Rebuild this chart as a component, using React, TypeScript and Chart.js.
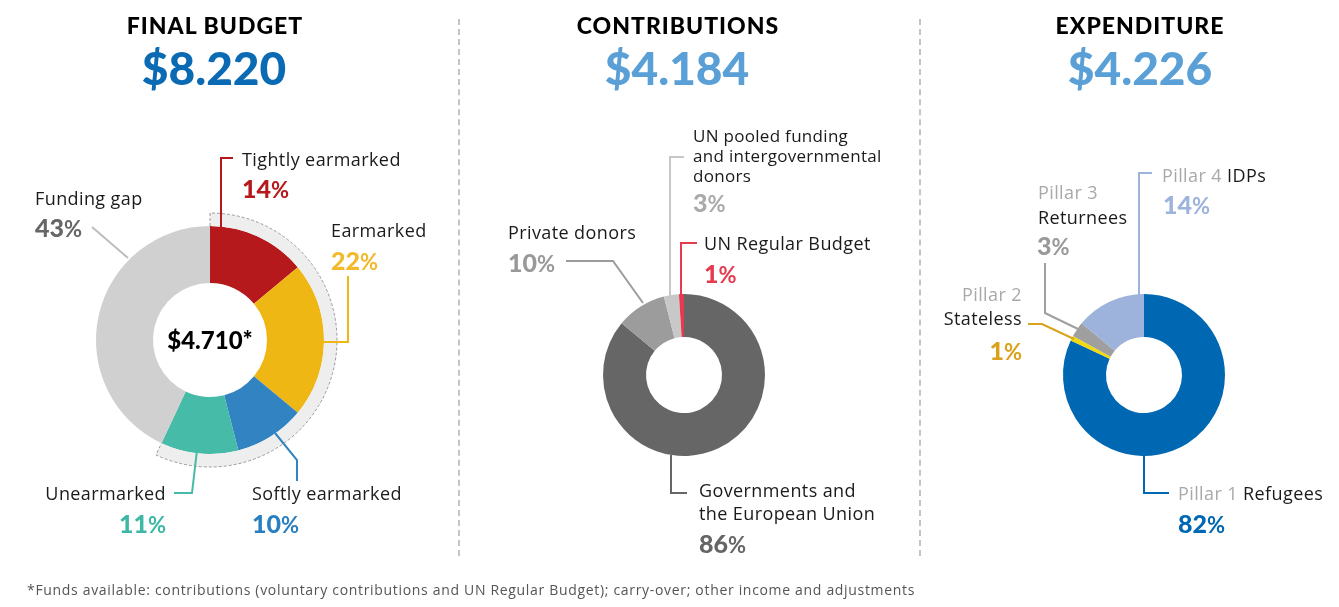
import React, { useEffect, useRef } from "react";
import { Chart, registerables } from "chart.js";

Chart.register(...registerables);

// ---------- DATA ----------
const titles = ["FINAL BUDGET", "CONTRIBUTIONS", "EXPENDITURE"];
const totals = ["$8.220", "$4.184", "$4.226"];
const budgetCenter = "$4.710*";

const budgetLabels = ["Tightly earmarked", "Earmarked", "Softly earmarked", "Unearmarked", "Funding gap"];
const budgetValues = [14, 22, 10, 11, 43];
const fundsAvailable = [57, 43]; // funds available band vs gap

const contribLabels = ["Governments and the European Union", "Private donors", "UN pooled funding and intergovernmental donors", "UN Regular Budget"];
const contribValues = [86, 10, 3, 1];

const expendLabels = ["Pillar 1 Refugees", "Pillar 2 Stateless", "Pillar 3 Returnees", "Pillar 4 IDPs"];
const expendValues = [82, 1, 3, 14];

const footnote = "*Funds available: contributions (voluntary contributions and UN Regular Budget); carry-over; other income and adjustments";

// ---------- STYLE ----------
const budgetColors = ["#b5191c", "#efb713", "#3283c1", "#45bba8", "#d0d0d0"];
const contribColors = ["#666666", "#9c9c9c", "#c8c8c8", "#e63a50"];
const expendColors = ["#0068b2", "#f3d90f", "#9f9f9f", "#9db3dc"];

const W = 1339;
const H = 607;
const LABEL_FONT = "'Open Sans', sans-serif";
const NUM_FONT = "Lato, sans-serif";

type Pt = [number, number];
interface Leader { color: string; pts: Pt[] }

const leaders1: Leader[] = [
  { color: "#b5191c", pts: [[221, 232], [221, 158], [233, 158]] },
  { color: "#efb713", pts: [[322, 342], [348, 342], [348, 276]] },
  { color: "#3283c1", pts: [[275, 433], [297, 460], [297, 481]] },
  { color: "#45bba8", pts: [[197, 450], [192, 493], [174, 493]] },
  { color: "#bdbdbd", pts: [[92, 227], [128, 258]] },
];
const leaders2: Leader[] = [
  { color: "#c8c8c8", pts: [[670, 299], [670, 157], [684, 157]] },
  { color: "#9c9c9c", pts: [[566, 261], [613, 261], [643, 303]] },
  { color: "#e63a50", pts: [[681, 299], [681, 243], [697, 243]] },
  { color: "#666666", pts: [[671, 455], [671, 493], [687, 493]] },
];
const leaders3: Leader[] = [
  { color: "#9db3dc", pts: [[1139, 297], [1139, 173], [1152, 173]] },
  { color: "#9f9f9f", pts: [[1045, 263], [1045, 313], [1078, 329]] },
  { color: "#d9a21b", pts: [[1028, 324], [1042, 324], [1074, 339]] },
  { color: "#0068b2", pts: [[1144, 455], [1144, 493], [1169, 493]] },
];

function makePlugin(leaders: Leader[], band: boolean) {
  return {
    id: "leaders",
    afterDatasetsDraw(chart: any) {
      const ctx = chart.ctx as CanvasRenderingContext2D;
      ctx.save();
      if (band) {
        const arc: any = chart.getDatasetMeta(0).data[0];
        const p = arc.getProps(["x", "y", "startAngle", "endAngle", "outerRadius", "innerRadius"], true);
        ctx.setLineDash([3, 2]);
        ctx.strokeStyle = "#9a9a9a";
        ctx.lineWidth = 1;
        ctx.beginPath();
        ctx.moveTo(p.x + p.innerRadius * Math.cos(p.startAngle), p.y + p.innerRadius * Math.sin(p.startAngle));
        ctx.lineTo(p.x + p.outerRadius * Math.cos(p.startAngle), p.y + p.outerRadius * Math.sin(p.startAngle));
        ctx.arc(p.x, p.y, p.outerRadius, p.startAngle, p.endAngle);
        ctx.lineTo(p.x + p.innerRadius * Math.cos(p.endAngle), p.y + p.innerRadius * Math.sin(p.endAngle));
        ctx.stroke();
        ctx.setLineDash([]);
      }
      ctx.lineWidth = 2;
      ctx.lineJoin = "miter";
      for (const l of leaders) {
        ctx.strokeStyle = l.color;
        ctx.beginPath();
        l.pts.forEach((pt, i) => (i === 0 ? ctx.moveTo(pt[0], pt[1]) : ctx.lineTo(pt[0], pt[1])));
        ctx.stroke();
      }
      ctx.restore();
    },
  };
}

function Doughnut(props: {
  labels: string[];
  datasets: any[];
  cutout: number;
  padding: { left: number; top: number; right: number; bottom: number };
  leaders: Leader[];
  band: boolean;
}) {
  const ref = useRef<HTMLCanvasElement | null>(null);
  useEffect(() => {
    if (!ref.current) return;
    const chart = new Chart(ref.current, {
      type: "doughnut",
      data: { labels: props.labels, datasets: props.datasets },
      options: {
        responsive: false,
        animation: false,
        events: [],
        cutout: props.cutout,
        layout: { padding: props.padding },
        plugins: { legend: { display: false }, tooltip: { enabled: false } },
      } as any,
      plugins: [makePlugin(props.leaders, props.band)],
    });
    return () => chart.destroy();
  }, []);
  return (
    <canvas
      ref={ref}
      width={W}
      height={H}
      style={{ position: "absolute", left: 0, top: 0, width: W, height: H }}
    />
  );
}

function T(props: {
  x: number;
  y: number;
  children: React.ReactNode;
  color?: string;
  size?: number;
  weight?: number;
  align?: "left" | "right" | "center";
  font?: string;
  ls?: number;
}) {
  const { x, y, align = "left" } = props;
  const style: React.CSSProperties = {
    position: "absolute",
    top: y,
    transform: align === "center" ? "translate(-50%, -50%)" : "translateY(-50%)",
    color: props.color || "#1a1a1a",
    fontSize: props.size || 18,
    fontWeight: props.weight || 400,
    fontFamily: props.font || LABEL_FONT,
    letterSpacing: props.ls ?? 0,
    lineHeight: 1,
    whiteSpace: "nowrap",
  };
  if (align === "right") style.right = W - x;
  else style.left = x;
  return <div style={style}>{props.children}</div>;
}

const Pct = (p: { x: number; y: number; color: string; v: number; align?: "left" | "right" }) => (
  <T x={p.x} y={p.y} color={p.color} size={25} weight={900} font={NUM_FONT} align={p.align}>
    {p.v}
    <span style={{ fontWeight: 700, fontSize: 22 }}>%</span>
  </T>
);

const GREY = "#a9a9a9";

export default function App() {
  useEffect(() => {
    document.body.style.margin = "0";
  }, []);
  return (
    <div style={{ position: "absolute", left: 0, top: 0, width: W, height: H, background: "#fff", overflow: "hidden" }}>
      {/* dividers */}
      {[459, 920].map((x) => (
        <div
          key={x}
          style={{ position: "absolute", left: x - 1, top: 19, height: 537, width: 0, borderLeft: "2px dashed #c4c4c4" }}
        />
      ))}

      <Doughnut
        labels={budgetLabels}
        datasets={[
          { data: fundsAvailable, backgroundColor: ["#eeeeee", "rgba(0,0,0,0)"], borderWidth: 0, hoverOffset: 0, weight: 13 },
          { data: budgetValues, backgroundColor: budgetColors, borderWidth: 0, hoverOffset: 0, weight: 57 },
        ]}
        cutout={57}
        padding={{ left: 83, top: 213, right: W - 337, bottom: H - 467 }}
        leaders={leaders1}
        band={true}
      />
      <Doughnut
        labels={contribLabels}
        datasets={[{ data: contribValues, backgroundColor: contribColors, borderWidth: 0, hoverOffset: 0 }]}
        cutout={38}
        padding={{ left: 603, top: 294, right: W - 765, bottom: H - 456 }}
        leaders={leaders2}
        band={false}
      />
      <Doughnut
        labels={expendLabels}
        datasets={[{ data: expendValues, backgroundColor: expendColors, borderWidth: 0, hoverOffset: 0 }]}
        cutout={38}
        padding={{ left: 1063, top: 294, right: W - 1225, bottom: H - 456 }}
        leaders={leaders3}
        band={false}
      />

      {/* titles */}
      <T x={215} y={25} align="center" size={23} weight={900} font={NUM_FONT} color="#000" ls={1}>{titles[0]}</T>
      <T x={678} y={25} align="center" size={23} weight={900} font={NUM_FONT} color="#000" ls={1}>{titles[1]}</T>
      <T x={1140} y={25} align="center" size={23} weight={900} font={NUM_FONT} color="#000" ls={1}>{titles[2]}</T>
      <T x={214} y={68} align="center" size={46} weight={900} font={NUM_FONT} color="#0a6ab4">{totals[0]}</T>
      <T x={677} y={68} align="center" size={46} weight={900} font={NUM_FONT} color="#5aa0d6">{totals[1]}</T>
      <T x={1140} y={68} align="center" size={46} weight={900} font={NUM_FONT} color="#5aa0d6">{totals[2]}</T>

      {/* chart 1 labels */}
      <T x={210} y={340} align="center" size={24} weight={900} font={NUM_FONT} color="#000">{budgetCenter}</T>
      <T x={242} y={159} ls={0.4}>{budgetLabels[0]}</T>
      <Pct x={242} y={188} color="#b5191c" v={budgetValues[0]} />
      <T x={331} y={230} ls={0.4}>{budgetLabels[1]}</T>
      <Pct x={331} y={260} color="#f2ba2a" v={budgetValues[1]} />
      <T x={252} y={493} ls={0.4}>{budgetLabels[2]}</T>
      <Pct x={252} y={523} color="#2a7fc0" v={budgetValues[2]} />
      <T x={166} y={493} align="right" ls={0.4}>{budgetLabels[3]}</T>
      <Pct x={166} y={523} color="#3db8a5" v={budgetValues[3]} align="right" />
      <T x={35} y={198} ls={0.4}>{budgetLabels[4]}</T>
      <Pct x={35} y={227} color="#666666" v={budgetValues[4]} />

      {/* chart 2 labels */}
      <T x={693} y={135} ls={0.3} size={17}>UN pooled funding</T>
      <T x={693} y={155} ls={0.3} size={17}>and intergovernmental</T>
      <T x={693} y={175} ls={0.3} size={17}>donors</T>
      <Pct x={693} y={202} color="#aaaaaa" v={contribValues[2]} />
      <T x={508} y={232} ls={0.4}>{contribLabels[1]}</T>
      <Pct x={508} y={262} color="#999999" v={contribValues[1]} />
      <T x={704} y={243} ls={0.4}>{contribLabels[3]}</T>
      <Pct x={704} y={273} color="#e63a50" v={contribValues[3]} />
      <T x={699} y={490} ls={0.4}>Governments and</T>
      <T x={699} y={513} ls={0.4}>the European Union</T>
      <Pct x={699} y={543} color="#666666" v={contribValues[0]} />

      {/* chart 3 labels */}
      <T x={1162} y={175} ls={0.4}><span style={{ color: GREY }}>Pillar 4</span> IDPs</T>
      <Pct x={1163} y={204} color="#9db3dc" v={expendValues[3]} />
      <T x={1038} y={192} ls={0.4} color={GREY}>Pillar 3</T>
      <T x={1038} y={217} ls={0.4}>Returnees</T>
      <Pct x={1037} y={245} color="#999999" v={expendValues[2]} />
      <T x={1022} y={294} align="right" ls={0.4} color={GREY}>Pillar 2</T>
      <T x={1022} y={318} align="right" ls={0.4}>Stateless</T>
      <Pct x={1022} y={350} color="#d9a21b" v={expendValues[1]} align="right" />
      <T x={1178} y={493} ls={0.4}><span style={{ color: GREY }}>Pillar 1</span> Refugees</T>
      <Pct x={1178} y={523} color="#0068b2" v={expendValues[0]} />

      {/* footnote */}
      <T x={27} y={590} size={14} color="#555555" ls={0.68}>{footnote}</T>
    </div>
  );
}
